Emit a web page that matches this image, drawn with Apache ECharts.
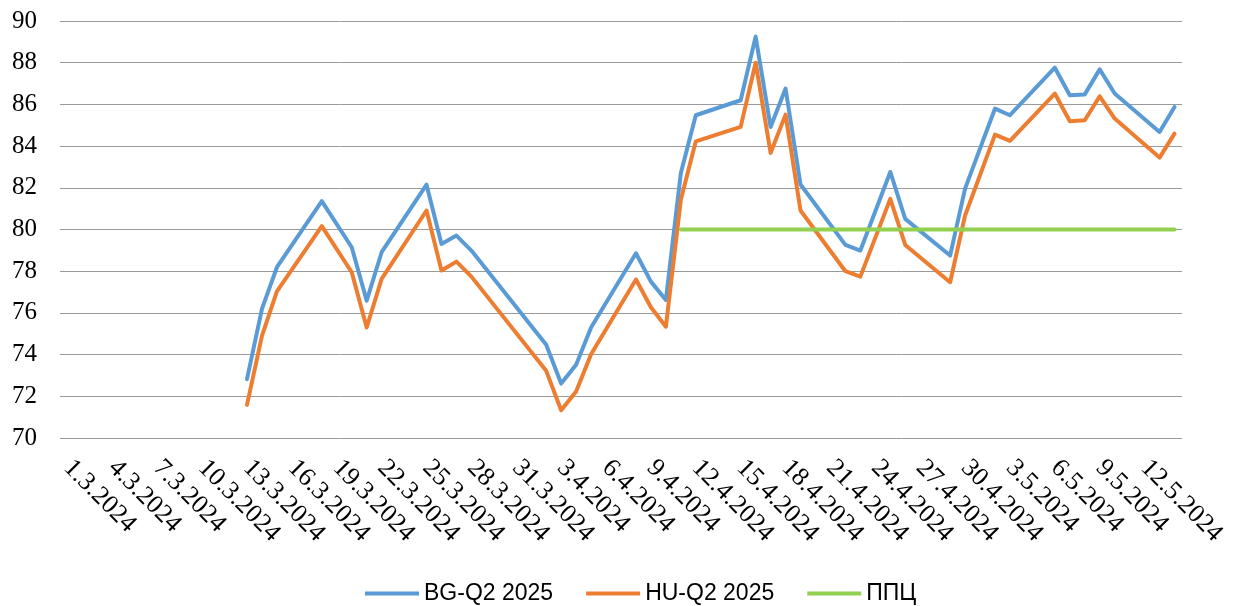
<!DOCTYPE html>
<html>
<head>
<meta charset="utf-8">
<script src="https://cdn.jsdelivr.net/npm/echarts@6.0.0/dist/echarts.min.js"></script>
<style>
  html, body { margin: 0; padding: 0; background: #fff; }
  #chart { width: 1233px; height: 606px; }
</style>
</head>
<body>
<div id="chart"></div>
<script>
// daily date axis, 1.3.2024 .. 14.5.2024
var days = [
    '1.3.2024', '2.3.2024', '3.3.2024', '4.3.2024', '5.3.2024', '6.3.2024', '7.3.2024', '8.3.2024',
    '9.3.2024', '10.3.2024', '11.3.2024', '12.3.2024', '13.3.2024', '14.3.2024', '15.3.2024', '16.3.2024',
    '17.3.2024', '18.3.2024', '19.3.2024', '20.3.2024', '21.3.2024', '22.3.2024', '23.3.2024', '24.3.2024',
    '25.3.2024', '26.3.2024', '27.3.2024', '28.3.2024', '29.3.2024', '30.3.2024', '31.3.2024',
    '1.4.2024', '2.4.2024', '3.4.2024', '4.4.2024', '5.4.2024', '6.4.2024', '7.4.2024', '8.4.2024',
    '9.4.2024', '10.4.2024', '11.4.2024', '12.4.2024', '13.4.2024', '14.4.2024', '15.4.2024', '16.4.2024',
    '17.4.2024', '18.4.2024', '19.4.2024', '20.4.2024', '21.4.2024', '22.4.2024', '23.4.2024', '24.4.2024',
    '25.4.2024', '26.4.2024', '27.4.2024', '28.4.2024', '29.4.2024', '30.4.2024',
    '1.5.2024', '2.5.2024', '3.5.2024', '4.5.2024', '5.5.2024', '6.5.2024', '7.5.2024', '8.5.2024',
    '9.5.2024', '10.5.2024', '11.5.2024', '12.5.2024', '13.5.2024', '14.5.2024'
];

// null = no quote that day (weekends / holidays), the line is joined across
var bg = [
    null, null, null, null, null, null, null, null, null, null, null, null,
    72.82, 76.19, 78.19, null, null, 81.36, null, 79.15, 76.59, 78.91, null, null,
    82.15, 79.31, 79.71, 78.99, null, null, null,
    null, 74.47, 72.61, 73.51, 75.30, null, null, 78.86, 77.50, 76.62, 82.71, 85.48,
    null, null, 86.20, 89.25, 84.92, 86.76, 82.16, null, null, 79.26, 78.99, null,
    82.76, 80.51, null, null, 78.75, 81.96,
    null, 85.80, 85.48, null, null, 87.76, 86.44, 86.48, 87.68, 86.52, null, null,
    84.68, 85.88
];
var hu = [
    null, null, null, null, null, null, null, null, null, null, null, null,
    71.59, 74.90, 77.03, null, null, 80.16, null, 77.95, 75.30, 77.63, null, null,
    80.91, 78.03, 78.46, 77.74, null, null, null,
    null, 73.22, 71.33, 72.23, 74.02, null, null, 77.60, 76.27, 75.34, 81.43, 84.23,
    null, null, 84.92, 88.00, 83.67, 85.51, 80.91, null, null, 78.00, 77.74, null,
    81.47, 79.26, null, null, 77.47, 80.67,
    null, 84.55, 84.25, null, null, 86.52, 85.19, 85.24, 86.39, 85.32, null, null,
    83.45, 84.60
];
var ppc = [
    null, null, null, null, null, null, null, null, null, null, null, null,
    null, null, null, null, null, null, null, null, null, null, null, null,
    null, null, null, null, null, null, null,
    null, null, null, null, null, null, null, null, null, null, 80, 80,
    null, null, 80, 80, 80, 80, 80, null, null, 80, 80, null,
    80, 80, null, null, 80, 80,
    null, 80, 80, null, null, 80, 80, 80, 80, 80, null, null,
    80, 80
];

var names = ['BG-Q2 2025', 'HU-Q2 2025', 'ППЦ'];
var colors = ['#5B9BD5', '#ED7D31', '#92D050'];

var chart = echarts.init(document.getElementById('chart'));

function lineSeries(name, data, color) {
    return {
        name: name,
        type: 'line',
        data: data,
        connectNulls: true,
        showSymbol: false,
        symbol: 'none',
        color: color,
        lineStyle: { width: 4, color: color, cap: 'round', join: 'round' }
    };
}

chart.setOption({
    animation: false,
    color: colors,
    grid: {
        left: 60,
        top: 21,
        width: 1122,
        height: 417,
        containLabel: false,
        outerBoundsMode: 'none'
    },
    legend: {
        data: names,
        left: 360,
        top: 577,
        icon: 'rect',
        itemWidth: 54,
        itemHeight: 4,
        itemGap: 33,
        textStyle: { fontFamily: 'Liberation Sans', fontSize: 23, color: '#000' }
    },
    xAxis: {
        type: 'category',
        data: days,
        boundaryGap: true,
        axisLine: { show: false },
        axisTick: { show: false },
        splitLine: { show: false },
        axisLabel: {
            interval: 2,
            rotate: -45,
            margin: 26,
            fontFamily: 'Liberation Serif',
            fontSize: 26,
            color: '#000'
        }
    },
    yAxis: {
        type: 'value',
        min: 70,
        max: 90,
        interval: 2,
        axisLine: { show: false },
        axisTick: { show: false },
        splitLine: { show: true, lineStyle: { color: '#9a9a9a', width: 1 } },
        axisLabel: {
            margin: 23,
            fontFamily: 'Liberation Serif',
            fontSize: 25,
            color: '#000'
        }
    },
    series: [
        lineSeries(names[0], bg, colors[0]),
        lineSeries(names[1], hu, colors[1]),
        lineSeries(names[2], ppc, colors[2])
    ]
});
</script>
</body>
</html>
